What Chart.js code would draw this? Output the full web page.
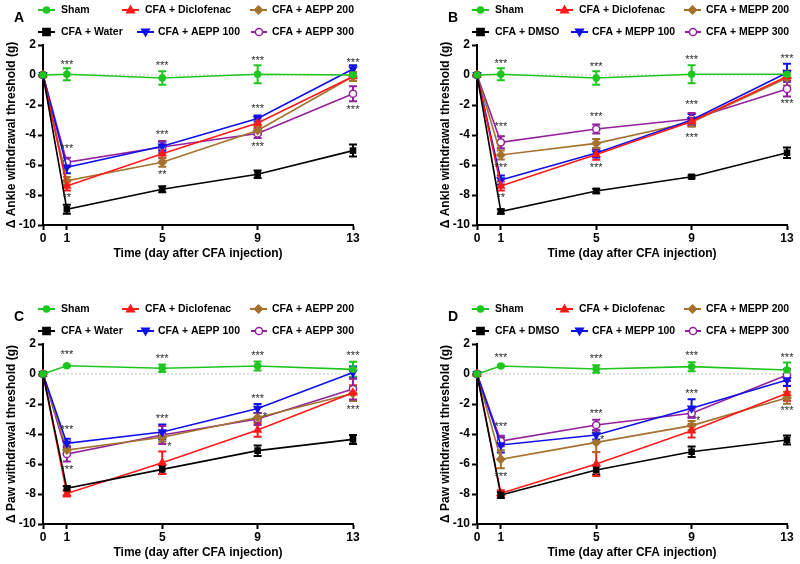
<!DOCTYPE html>
<html><head><meta charset="utf-8">
<script src="https://cdn.jsdelivr.net/npm/chart.js@4/dist/chart.umd.min.js"></script>
<style>
html,body{margin:0;padding:0;background:#fff;}
#wrap{position:relative;width:800px;height:564px;background:#fff;overflow:hidden;}
canvas{position:absolute;}
</style></head><body>
<div id="wrap">
<canvas id="cA" width="366" height="265" style="left:0px;top:0px"></canvas>
<canvas id="cB" width="366" height="265" style="left:434px;top:0px"></canvas>
<canvas id="cC" width="366" height="265" style="left:0px;top:299px"></canvas>
<canvas id="cD" width="366" height="265" style="left:434px;top:299px"></canvas>
</div>
<script>
// ---------- shared axis data ----------
const days = [0, 1, 5, 9, 13];
const xTicks = [0, 1, 5, 9, 13];
const yTicks = [-10, -8, -6, -4, -2, 0, 2];
const xTitle = 'Time (day after CFA injection)';

// ---------- Panel A (ankle, AEPP) ----------
const A_labels = ['Sham', 'CFA + Water', 'CFA + Diclofenac', 'CFA + AEPP 100', 'CFA + AEPP 200', 'CFA + AEPP 300'];
const A_sham  = [0, 0.05, -0.2, 0.05, 0.0];
const A_shamE = [0, 0.4, 0.45, 0.6, 0.2];
const A_veh   = [0, -8.95, -7.62, -6.62, -5.04];
const A_vehE  = [0, 0.3, 0.2, 0.25, 0.4];
const A_dic   = [0, -7.4, -5.25, -3.2, -0.1];
const A_dicE  = [0, 0.3, 0.3, 0.3, 0.3];
const A_d100  = [0, -6.15, -4.75, -2.9, 0.4];
const A_d100E = [0, 0.4, 0.3, 0.2, 0.25];
const A_d200  = [0, -7.05, -5.82, -3.7, -0.1];
const A_d200E = [0, 0.25, 0.3, 0.3, 0.3];
const A_d300  = [0, -5.82, -4.8, -3.9, -1.25];
const A_d300E = [0, 0.3, 0.4, 0.3, 0.5];
const A_starX = [1, 5, 9, 13, 1, 1, 5, 5, 9, 9, 13];
const A_starY = [0.82, 0.73, 1.07, 0.96, -4.82, -8.04, -3.84, -6.51, -2.16, -4.67, -2.22];
const A_starT = ['***', '***', '***', '***', '***', '**', '***', '**', '***', '***', '***'];

// ---------- Panel B (ankle, MEPP) ----------
const B_labels = ['Sham', 'CFA + DMSO', 'CFA + Diclofenac', 'CFA + MEPP 100', 'CFA + MEPP 200', 'CFA + MEPP 300'];
const B_sham  = [0, 0.05, -0.2, 0.05, 0.05];
const B_shamE = [0, 0.4, 0.45, 0.6, 0.2];
const B_veh   = [0, -9.1, -7.73, -6.78, -5.18];
const B_vehE  = [0, 0.15, 0.15, 0.1, 0.35];
const B_dic   = [0, -7.4, -5.3, -3.1, -0.1];
const B_dicE  = [0, 0.3, 0.35, 0.2, 0.3];
const B_d100  = [0, -7.0, -5.2, -3.0, 0.15];
const B_d100E = [0, 0.3, 0.3, 0.4, 0.6];
const B_d200  = [0, -5.33, -4.56, -3.15, -0.2];
const B_d200E = [0, 0.3, 0.3, 0.3, 0.5];
const B_d300  = [0, -4.49, -3.6, -2.93, -0.93];
const B_d300E = [0, 0.4, 0.3, 0.4, 0.5];
const B_starX = [1, 5, 9, 13, 1, 1, 1, 5, 5, 9, 9, 13];
const B_starY = [0.89, 0.67, 1.11, 1.18, -3.33, -6.04, -8.04, -2.67, -6.07, -1.89, -4.07, -1.78];
const B_starT = ['***', '***', '***', '***', '***', '***', '**', '***', '***', '***', '***', '***'];

// ---------- Panel C (paw, AEPP) ----------
const C_labels = ['Sham', 'CFA + Water', 'CFA + Diclofenac', 'CFA + AEPP 100', 'CFA + AEPP 200', 'CFA + AEPP 300'];
const C_sham  = [0, 0.55, 0.38, 0.53, 0.31];
const C_shamE = [0, 0.05, 0.25, 0.3, 0.5];
const C_veh   = [0, -7.62, -6.36, -5.11, -4.36];
const C_vehE  = [0, 0.15, 0.3, 0.35, 0.3];
const C_dic   = [0, -7.96, -5.91, -3.73, -1.25];
const C_dicE  = [0, 0.2, 0.75, 0.45, 0.5];
const C_d100  = [0, -4.62, -3.87, -2.3, 0.1];
const C_d100E = [0, 0.3, 0.5, 0.3, 0.4];
const C_d200  = [0, -5.07, -4.22, -2.9, -1.3];
const C_d200E = [0, 0.3, 0.3, 0.3, 0.5];
const C_d300  = [0, -5.33, -4.07, -3.0, -1.0];
const C_d300E = [0, 0.5, 0.6, 0.4, 0.7];
const C_starX = [1, 5, 9, 13, 1, 1, 5, 5.3, 9, 9.3, 13];
const C_starY = [1.38, 1.11, 1.33, 1.33, -3.62, -6.29, -2.84, -4.73, -1.56, -2.73, -2.29];
const C_starT = ['***', '***', '***', '***', '***', '***', '***', '*', '***', '*', '***'];

// ---------- Panel D (paw, MEPP) ----------
const D_labels = ['Sham', 'CFA + DMSO', 'CFA + Diclofenac', 'CFA + MEPP 100', 'CFA + MEPP 200', 'CFA + MEPP 300'];
const D_sham  = [0, 0.53, 0.33, 0.49, 0.27];
const D_shamE = [0, 0.05, 0.25, 0.3, 0.5];
const D_veh   = [0, -8.07, -6.4, -5.18, -4.4];
const D_vehE  = [0, 0.2, 0.3, 0.35, 0.3];
const D_dic   = [0, -7.95, -6.0, -3.78, -1.29];
const D_dicE  = [0, 0.2, 0.8, 0.45, 0.5];
const D_d100  = [0, -4.73, -4.07, -2.29, -0.4];
const D_d100E = [0, 0.5, 0.3, 0.6, 0.4];
const D_d200  = [0, -5.69, -4.56, -3.44, -1.58];
const D_d200E = [0, 0.6, 0.65, 0.3, 0.4];
const D_d300  = [0, -4.47, -3.4, -2.62, -0.07];
const D_d300E = [0, 0.35, 0.35, 0.3, 0.4];
const D_starX = [1, 5, 9, 13, 1, 1, 5, 5.25, 9, 9.27, 13];
const D_starY = [1.2, 1.11, 1.33, 1.2, -3.4, -6.73, -2.51, -4.29, -1.22, -3.0, -2.3];
const D_starT = ['***', '***', '***', '***', '***', '***', '***', '*', '***', '*', '***'];

// ---------- styles ----------
const FONT = '"Liberation Sans", Arial, Helvetica, sans-serif';
const COLORS = ['#1fc61f', '#000000', '#ff1a1a', '#1010e8', '#a5722e', '#93209c'];
const STYLES = [
  {ps: 'circle', r: 3, rot: 0, fill: true},
  {ps: 'rect', r: 3.6, rot: 0, fill: true},
  {ps: 'triangle', r: 4, rot: 0, fill: true},
  {ps: 'triangle', r: 4, rot: 180, fill: true},
  {ps: 'rectRot', r: 4, rot: 0, fill: true},
  {ps: 'circle', r: 3.6, rot: 0, fill: false}
];
// legend slot per dataset: row, line start, line end, text x
const LEG = [[0, 38, 55, 61], [1, 38, 55, 61], [0, 122, 139, 145], [1, 137, 154, 158], [0, 250, 267, 272], [1, 251, 267, 272]];
const LEG_ROW_Y = [10, 32];

function drawMarker(ctx, st, color, cx, cy) {
  ctx.save();
  ctx.translate(cx, cy);
  ctx.rotate(st.rot * Math.PI / 180);
  ctx.fillStyle = st.fill ? color : '#fff';
  ctx.strokeStyle = color;
  ctx.lineWidth = 1.5;
  const r = st.r;
  ctx.beginPath();
  if (st.ps === 'circle') ctx.arc(0, 0, r, 0, Math.PI * 2);
  else if (st.ps === 'rect') ctx.rect(-r, -r, 2 * r, 2 * r);
  else if (st.ps === 'rectRot') { ctx.moveTo(0, -r); ctx.lineTo(r, 0); ctx.lineTo(0, r); ctx.lineTo(-r, 0); ctx.closePath(); }
  else if (st.ps === 'triangle') { ctx.moveTo(0, -r); ctx.lineTo(r * 0.95, r * 0.7); ctx.lineTo(-r * 0.95, r * 0.7); ctx.closePath(); }
  ctx.fill(); ctx.stroke();
  ctx.restore();
}

function makePlugin(panel) {
  return {
    id: 'decor' + panel.letter,
    beforeDatasetsDraw(chart) {
      const {ctx, chartArea: ca, scales: {x, y}} = chart;
      ctx.save();
      // dotted zero reference line
      const y0 = y.getPixelForValue(0);
      ctx.strokeStyle = '#c4c4c4'; ctx.lineWidth = 1; ctx.setLineDash([2, 2]);
      ctx.beginPath(); ctx.moveTo(ca.left, y0); ctx.lineTo(ca.right, y0); ctx.stroke();
      ctx.setLineDash([]);
      // error bars
      chart.data.datasets.forEach((ds, i) => {
        const errs = panel.errors[i];
        ctx.strokeStyle = COLORS[i]; ctx.lineWidth = 2;
        ds.data.forEach((p, j) => {
          const e = errs[j];
          if (!e) return;
          const px = x.getPixelForValue(p.x);
          const yt = y.getPixelForValue(p.y + e), yb = y.getPixelForValue(p.y - e);
          ctx.beginPath();
          ctx.moveTo(px, yt); ctx.lineTo(px, yb);
          ctx.moveTo(px - 4, yt); ctx.lineTo(px + 4, yt);
          ctx.moveTo(px - 4, yb); ctx.lineTo(px + 4, yb);
          ctx.stroke();
        });
      });
      ctx.restore();
    },
    afterDraw(chart) {
      const {ctx, scales: {x, y}} = chart;
      ctx.save();
      // significance stars
      ctx.fillStyle = '#2a2a2a';
      ctx.font = '11px ' + FONT;
      ctx.textAlign = 'center'; ctx.textBaseline = 'middle';
      panel.starT.forEach((t, k) => {
        ctx.fillText(t, x.getPixelForValue(panel.starX[k]), y.getPixelForValue(panel.starY[k]) + 2);
      });
      // legend
      ctx.font = 'bold 10.5px ' + FONT;
      ctx.textAlign = 'left'; ctx.textBaseline = 'middle';
      chart.data.datasets.forEach((ds, i) => {
        const [row, l0, l1, tx] = LEG[i];
        const ly = LEG_ROW_Y[row];
        ctx.strokeStyle = COLORS[i]; ctx.lineWidth = 2;
        ctx.beginPath(); ctx.moveTo(l0, ly); ctx.lineTo(l1, ly); ctx.stroke();
        drawMarker(ctx, STYLES[i], COLORS[i], (l0 + l1) / 2, ly);
        ctx.fillStyle = '#000';
        ctx.fillText(ds.label, tx, ly + 0.5);
      });
      // panel letter
      ctx.font = 'bold 14px ' + FONT;
      ctx.textAlign = 'center';
      ctx.fillText(panel.letter, 19, 18);
      ctx.restore();
    }
  };
}

function makeChart(canvasId, panel) {
  const datasets = panel.series.map((vals, i) => ({
    label: panel.labels[i],
    data: days.map((d, j) => ({x: d, y: vals[j]})),
    borderColor: COLORS[i],
    backgroundColor: COLORS[i],
    borderWidth: 1.6,
    pointStyle: STYLES[i].ps,
    pointRadius: STYLES[i].r,
    pointRotation: STYLES[i].rot,
    pointBackgroundColor: STYLES[i].fill ? COLORS[i] : '#ffffff',
    pointBorderColor: COLORS[i],
    pointBorderWidth: 1.5,
    tension: 0,
    fill: false,
    clip: false
  }));
  const tickFont = {family: FONT, size: 12, weight: 'bold'};
  return new Chart(document.getElementById(canvasId), {
    type: 'line',
    data: {datasets},
    options: {
      responsive: false,
      animation: false,
      devicePixelRatio: 1,
      layout: {padding: {left: 0, right: 13, top: 45, bottom: 0}},
      plugins: {legend: {display: false}, tooltip: {enabled: false}},
      scales: {
        x: {
          type: 'linear', min: 0, max: 13,
          afterBuildTicks: s => { s.ticks = xTicks.map(v => ({value: v})); },
          afterFit: s => { s.height = 40; },
          ticks: {color: '#000', font: tickFont, padding: 1, maxRotation: 0, autoSkip: false},
          grid: {display: true, drawOnChartArea: false, drawTicks: true, tickLength: 5, tickColor: '#000', tickWidth: 2},
          border: {display: true, color: '#000', width: 2},
          title: {display: true, text: xTitle, color: '#000', font: {family: FONT, size: 12, weight: 'bold'}, padding: {top: 0, bottom: 4.5}}
        },
        y: {
          type: 'linear', min: -10, max: 2,
          afterBuildTicks: s => { s.ticks = yTicks.map(v => ({value: v})); },
          afterFit: s => { s.width = 43; },
          ticks: {color: '#000', font: tickFont, padding: 2},
          grid: {display: true, drawOnChartArea: false, drawTicks: true, tickLength: 5, tickColor: '#000', tickWidth: 2},
          border: {display: true, color: '#000', width: 2},
          title: {display: true, text: panel.yTitle, color: '#000', font: {family: FONT, size: 12, weight: 'bold'}, padding: {top: 4.8, bottom: 0}}
        }
      }
    },
    plugins: [makePlugin(panel)]
  });
}

makeChart('cA', {letter: 'A', yTitle: '\u0394 Ankle withdrawal threshold (g)', labels: A_labels,
  series: [A_sham, A_veh, A_dic, A_d100, A_d200, A_d300],
  errors: [A_shamE, A_vehE, A_dicE, A_d100E, A_d200E, A_d300E],
  starX: A_starX, starY: A_starY, starT: A_starT});
makeChart('cB', {letter: 'B', yTitle: '\u0394 Ankle withdrawal threshold (g)', labels: B_labels,
  series: [B_sham, B_veh, B_dic, B_d100, B_d200, B_d300],
  errors: [B_shamE, B_vehE, B_dicE, B_d100E, B_d200E, B_d300E],
  starX: B_starX, starY: B_starY, starT: B_starT});
makeChart('cC', {letter: 'C', yTitle: '\u0394 Paw withdrawal threshold (g)', labels: C_labels,
  series: [C_sham, C_veh, C_dic, C_d100, C_d200, C_d300],
  errors: [C_shamE, C_vehE, C_dicE, C_d100E, C_d200E, C_d300E],
  starX: C_starX, starY: C_starY, starT: C_starT});
makeChart('cD', {letter: 'D', yTitle: '\u0394 Paw withdrawal threshold (g)', labels: D_labels,
  series: [D_sham, D_veh, D_dic, D_d100, D_d200, D_d300],
  errors: [D_shamE, D_vehE, D_dicE, D_d100E, D_d200E, D_d300E],
  starX: D_starX, starY: D_starY, starT: D_starT});
</script>
</body></html>
